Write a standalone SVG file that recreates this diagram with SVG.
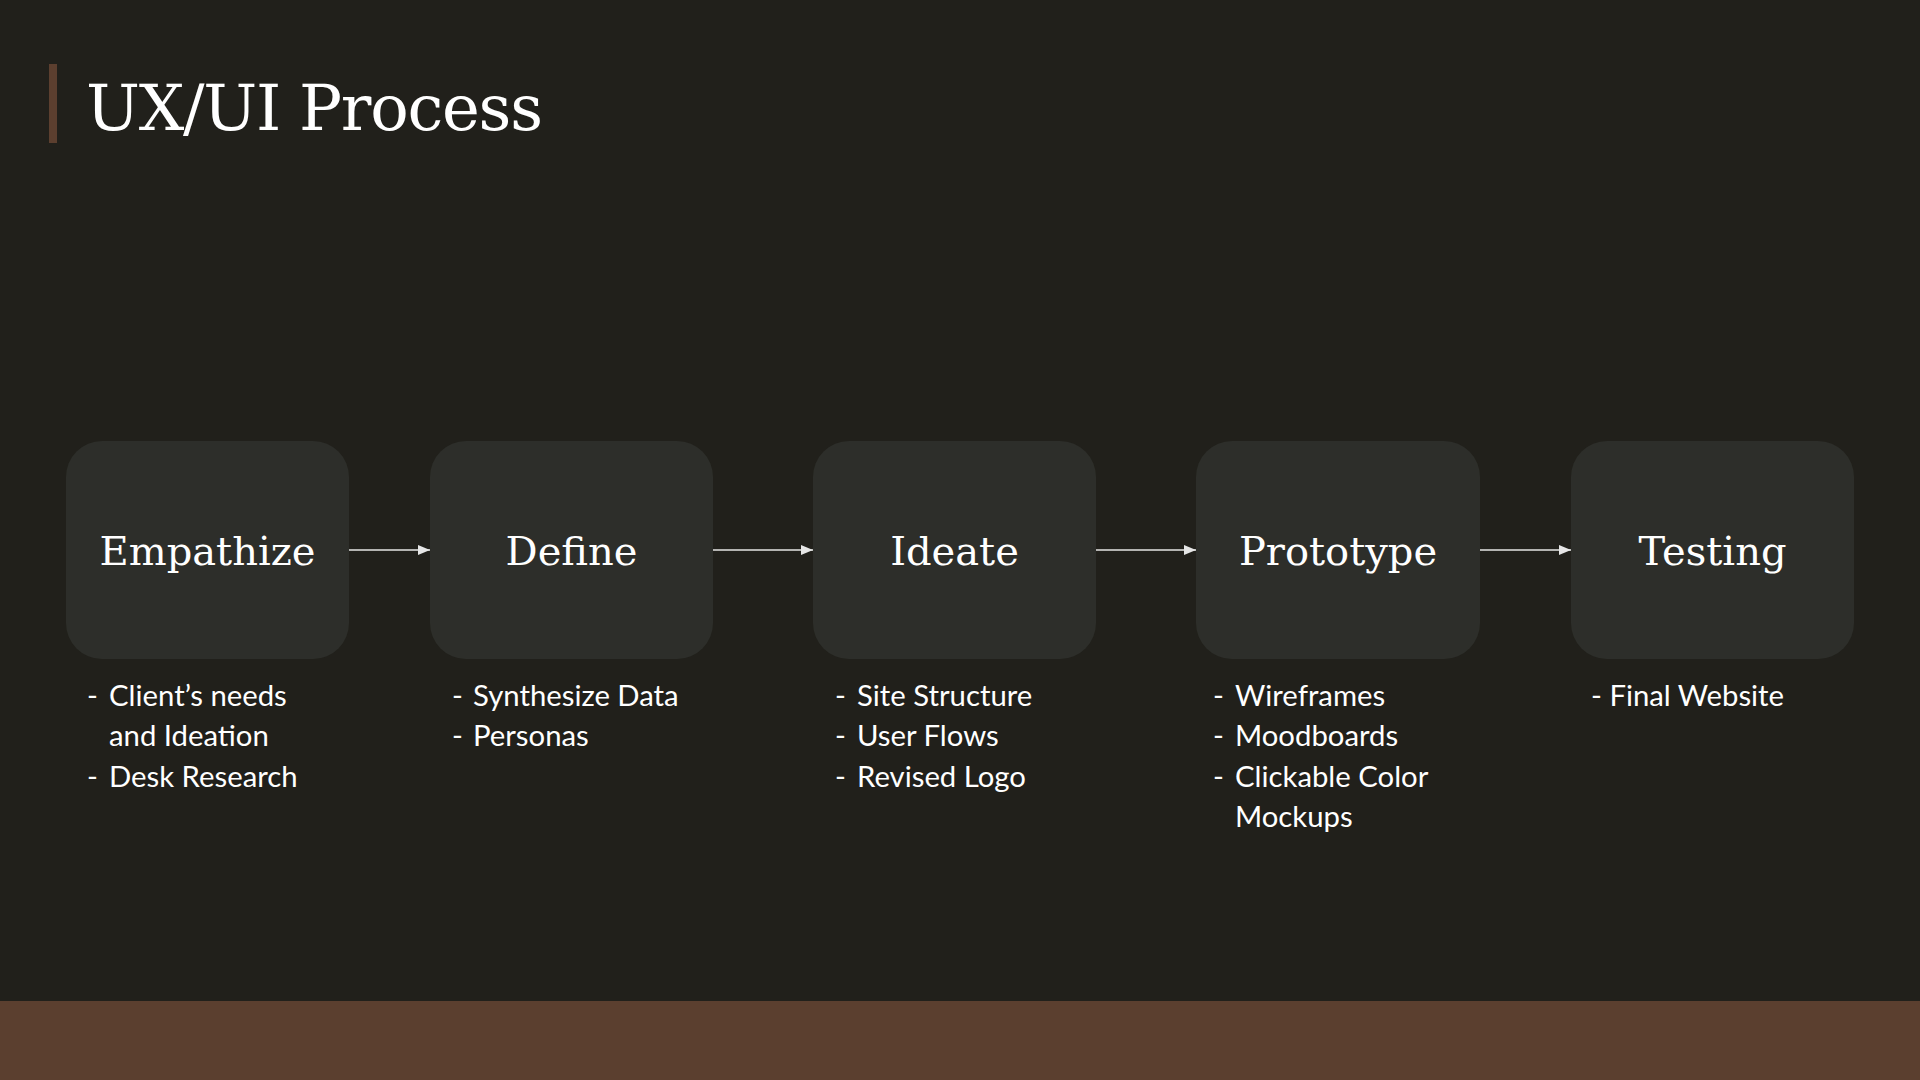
<svg xmlns="http://www.w3.org/2000/svg" width="1920" height="1080" viewBox="0 0 1920 1080">
<defs>
<marker id="ah" markerWidth="12" markerHeight="10" refX="12" refY="5" orient="auto" markerUnits="userSpaceOnUse">
<path d="M0,0 L12,5 L0,10 Z" fill="#e6e6e6"/>
</marker>
<style>
.box{fill:#2d2e2a}
.lbl{font-family:"DejaVu Serif","Liberation Serif",serif;font-size:40px;fill:#ffffff;text-anchor:middle}
.bul{font-family:Lato,"Liberation Sans",sans-serif;font-size:29.3px;fill:#ffffff}
.conn{stroke:#e6e6e6;stroke-width:1.6;fill:none}
</style>
</defs>
<rect width="1920" height="1080" fill="#21201b"/>
<rect x="0" y="1001" width="1920" height="79" fill="#5b3f2f"/>
<g id="title">
<rect x="49" y="64" width="8" height="79" fill="#5c3f2f"/>
<text x="86" y="130" font-family="DejaVu Serif, Liberation Serif, serif" font-size="64" fill="#ffffff" textLength="457">UX/UI Process</text>
</g>
<g id="connectors">
<line class="conn" x1="349" y1="550" x2="430" y2="550" marker-end="url(#ah)"/>
<line class="conn" x1="713" y1="550" x2="813" y2="550" marker-end="url(#ah)"/>
<line class="conn" x1="1096" y1="550" x2="1196" y2="550" marker-end="url(#ah)"/>
<line class="conn" x1="1480" y1="550" x2="1571" y2="550" marker-end="url(#ah)"/>
</g>
<g id="empathize">
<rect class="box" x="66" y="441" width="283" height="218" rx="36"/>
<text class="lbl" x="207.5" y="565">Empathize</text>
<text class="bul" y="706"><tspan x="87">-</tspan><tspan x="109">Client’s needs</tspan></text>
<text class="bul" x="109" y="746">and Ideation</text>
<text class="bul" y="787"><tspan x="87">-</tspan><tspan x="109">Desk Research</tspan></text>
</g>
<g id="define">
<rect class="box" x="430" y="441" width="283" height="218" rx="36"/>
<text class="lbl" x="571.5" y="565">Define</text>
<text class="bul" y="706"><tspan x="452">-</tspan><tspan x="473">Synthesize Data</tspan></text>
<text class="bul" y="746"><tspan x="452">-</tspan><tspan x="473">Personas</tspan></text>
</g>
<g id="ideate">
<rect class="box" x="813" y="441" width="283" height="218" rx="36"/>
<text class="lbl" x="954.5" y="565">Ideate</text>
<text class="bul" y="706"><tspan x="835">-</tspan><tspan x="857">Site Structure</tspan></text>
<text class="bul" y="746"><tspan x="835">-</tspan><tspan x="857">User Flows</tspan></text>
<text class="bul" y="787"><tspan x="835">-</tspan><tspan x="857">Revised Logo</tspan></text>
</g>
<g id="prototype">
<rect class="box" x="1196" y="441" width="284" height="218" rx="36"/>
<text class="lbl" x="1338" y="565">Prototype</text>
<text class="bul" y="706"><tspan x="1213">-</tspan><tspan x="1235">Wireframes</tspan></text>
<text class="bul" y="746"><tspan x="1213">-</tspan><tspan x="1235">Moodboards</tspan></text>
<text class="bul" y="787"><tspan x="1213">-</tspan><tspan x="1235">Clickable Color</tspan></text>
<text class="bul" x="1235" y="827">Mockups</text>
</g>
<g id="testing">
<rect class="box" x="1571" y="441" width="283" height="218" rx="36"/>
<text class="lbl" x="1712.5" y="565">Testing</text>
<text class="bul" x="1591" y="706">- Final Website</text>
</g>
</svg>
